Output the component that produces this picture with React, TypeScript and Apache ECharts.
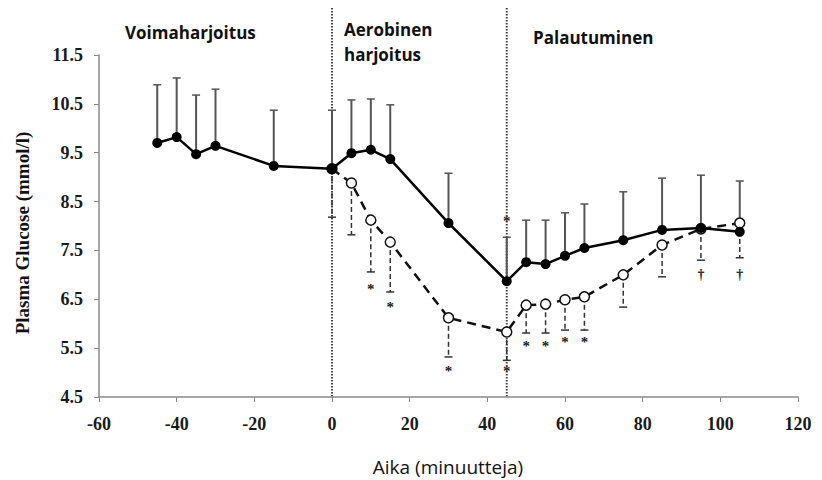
import React, { useEffect, useRef } from "react";
import * as echarts from "echarts";

// Filled markers (solid line) – time in minutes, glucose mmol/l, top of error bar
const timeFilled = [-45, -40, -35, -30, -15, 0, 5, 10, 15, 30, 45, 50, 55, 60, 65, 75, 85, 95, 105];
const glucoseFilled = [9.70, 9.82, 9.47, 9.64, 9.23, 9.17, 9.49, 9.56, 9.37, 8.06, 6.87, 7.26, 7.22, 7.39, 7.55, 7.71, 7.92, 7.96, 7.88];
const errTopFilled = [10.89, 11.03, 10.68, 10.80, 10.37, 10.37, 10.58, 10.60, 10.48, 9.08, 7.77, 8.12, 8.12, 8.27, 8.45, 8.70, 8.98, 9.04, 8.92];

// Open markers (dashed line) – bottom of error bar
const timeOpen = [0, 5, 10, 15, 30, 45, 50, 55, 60, 65, 75, 85, 95, 105];
const glucoseOpen = [9.17, 8.88, 8.12, 7.67, 6.12, 5.83, 6.38, 6.40, 6.49, 6.55, 7.00, 7.61, 7.94, 8.06];
const errBottomOpen = [8.18, 7.82, 7.06, 6.65, 5.32, 5.25, 5.81, 5.81, 5.87, 5.87, 6.34, 6.96, 7.30, 7.35];

// Significance marks
const markTime = [10, 15, 30, 45, 45, 50, 55, 60, 65, 95, 105];
const markValue = [6.79, 6.42, 5.11, 5.11, 8.18, 5.63, 5.63, 5.71, 5.71, 7.0, 7.0];
const markSymbol = ["*", "*", "*", "*", "*", "*", "*", "*", "*", "†", "†"];

// Axis ticks
const yTicks = [4.5, 5.5, 6.5, 7.5, 8.5, 9.5, 10.5, 11.5];
const phaseBoundaries = [0, 45];
const phaseLabels = ["Voimaharjoitus", "Aerobinen\nharjoitus", "Palautuminen"];

const SERIF = "'Liberation Serif', 'Times New Roman', serif";
const SANS = "'Open Sans', Lato, sans-serif";

export default function App() {
  const ref = useRef<HTMLDivElement>(null);

  useEffect(() => {
    if (!ref.current) return;
    const chart = echarts.init(ref.current, null, { renderer: "svg" });

    const errRender = (dashed: boolean, color: string, width: number) =>
      (params: any, api: any) => {
        const x = api.value(0);
        const p = api.coord([x, api.value(1)]);
        const e = api.coord([x, api.value(2)]);
        const style = { stroke: color, lineWidth: width, lineDash: dashed ? [5, 3] : null };
        return {
          type: "group",
          children: [
            { type: "line", shape: { x1: p[0], y1: p[1], x2: e[0], y2: e[1] }, style },
            { type: "line", shape: { x1: e[0] - 4, y1: e[1], x2: e[0] + 4, y2: e[1] }, style: { stroke: color, lineWidth: 1.5 } },
          ],
        };
      };

    const option: any = {
      animation: false,
      grid: { left: 99, right: 24, top: 55, bottom: 83 },
      xAxis: {
        type: "value",
        min: -60,
        max: 120,
        interval: 20,
        axisLine: { show: true, onZero: false, lineStyle: { color: "#8a8a8a", width: 1.5 } },
        axisTick: { show: true, length: 5, lineStyle: { color: "#8a8a8a" } },
        splitLine: { show: false },
        axisLabel: { margin: 18, fontFamily: SERIF, fontWeight: "bold", fontSize: 18, color: "#1a1a1a" },
      },
      yAxis: {
        type: "value",
        min: 4.5,
        max: 11.5,
        axisLine: { show: true, onZero: false, lineStyle: { color: "#8a8a8a", width: 1.5 } },
        axisTick: { show: true, length: 5, customValues: yTicks, lineStyle: { color: "#8a8a8a" } },
        splitLine: { show: false },
        axisLabel: {
          customValues: yTicks,
          margin: 16,
          fontFamily: SERIF,
          fontWeight: "bold",
          fontSize: 18,
          color: "#1a1a1a",
          formatter: (v: number) => v.toFixed(1),
        },
      },
      series: [
        {
          type: "custom",
          z: 1,
          renderItem: errRender(false, "#555555", 2),
          data: timeFilled.map((t, i) => [t, glucoseFilled[i], errTopFilled[i]]),
        },
        {
          type: "custom",
          z: 1,
          renderItem: errRender(true, "#333333", 1.5),
          data: timeOpen.map((t, i) => [t, glucoseOpen[i], errBottomOpen[i]]),
        },
        {
          type: "line",
          z: 3,
          data: timeOpen.map((t, i) => [t, glucoseOpen[i]]),
          symbol: "circle",
          symbolSize: 10,
          lineStyle: { color: "#111", width: 2.5, type: [9, 6] },
          itemStyle: { color: "#fff", borderColor: "#111", borderWidth: 1.5 },
        },
        {
          type: "line",
          z: 4,
          data: timeFilled.map((t, i) => [t, glucoseFilled[i]]),
          symbol: "circle",
          symbolSize: 10,
          lineStyle: { color: "#000", width: 2.5 },
          itemStyle: { color: "#000", borderColor: "#000", borderWidth: 0 },
        },
        {
          type: "custom",
          z: 5,
          data: markTime.map((t, i) => [t, markValue[i], i]),
          renderItem: (params: any, api: any) => {
            const p = api.coord([api.value(0), api.value(1)]);
            const sym = markSymbol[api.value(2)];
            return {
              type: "text",
              x: p[0],
              y: p[1] + (sym === "*" ? 4 : 0),
              style: {
                text: sym,
                fontFamily: SERIF,
                fontWeight: "bold",
                fontSize: sym === "*" ? 15 : 14,
                fill: "#222",
                align: "center",
                verticalAlign: "middle",
              },
            };
          },
        },
      ],
    };
    chart.setOption(option);

    const yBottom = chart.convertToPixel({ yAxisIndex: 0 }, 4.5) as number;
    const graphics: any[] = phaseBoundaries.map((b, i) => {
      const px = chart.convertToPixel({ xAxisIndex: 0 }, b) as number;
      return {
        type: "line",
        id: "vb" + i,
        z: 0,
        shape: { x1: px, y1: 8, x2: px, y2: yBottom },
        style: { stroke: "#444", lineWidth: 2, lineDash: [1.5, 1.5] },
      };
    });
    graphics.push(
      {
        type: "text", id: "t1", left: 125, top: 20,
        style: { text: phaseLabels[0], font: `bold 17px ${SANS}`, fill: "#111", lineHeight: 25 },
      },
      {
        type: "text", id: "t2", left: 344, top: 17,
        style: { text: phaseLabels[1], font: `bold 17px ${SANS}`, fill: "#111", lineHeight: 25 },
      },
      {
        type: "text", id: "t3", left: 533, top: 25,
        style: { text: phaseLabels[2], font: `bold 17px ${SANS}`, fill: "#111", lineHeight: 25 },
      },
      {
        type: "text", id: "xt", x: 448, y: 467,
        style: { text: "Aika (minuutteja)", font: `19px ${SANS}`, fill: "#111", align: "center", verticalAlign: "middle" },
      },
      {
        type: "text", id: "yt", x: 22, y: 233, rotation: Math.PI / 2,
        style: { text: "Plasma Glucose (mmol/l)", font: `bold 19px ${SERIF}`, fill: "#111", align: "center", verticalAlign: "middle" },
      }
    );
    chart.setOption({ graphic: graphics });

    return () => chart.dispose();
  }, []);

  return <div ref={ref} style={{ width: 822, height: 480, position: "absolute", left: 0, top: 0 }} />;
}
